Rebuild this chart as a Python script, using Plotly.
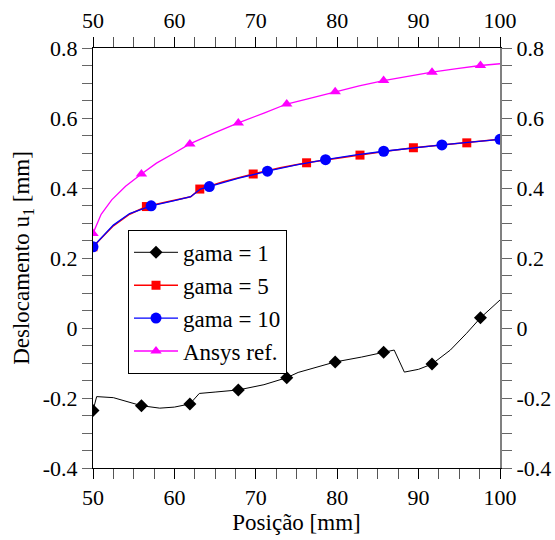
import plotly.graph_objects as go

# ---- data ----
g1_x = [50, 50.45, 52.5, 54.3, 55.95, 58.2, 60, 61.9, 63.06, 65, 67.85, 71, 73.8, 75.2, 77.5, 79.75, 83, 85.7, 87.0, 88.25, 90, 91.65, 93.9, 95.9, 97.6, 100]
g1_y = [-0.236, -0.196, -0.199, -0.21, -0.222, -0.229, -0.226, -0.217, -0.187, -0.183, -0.177, -0.162, -0.142, -0.127, -0.112, -0.097, -0.083, -0.069, -0.063, -0.126, -0.118, -0.103, -0.063, -0.015, 0.029, 0.08]
g1_mx = [50, 55.95, 61.9, 67.85, 73.8, 79.75, 85.7, 91.65, 97.6]
g1_my = [-0.236, -0.222, -0.217, -0.177, -0.142, -0.097, -0.069, -0.103, 0.029]

g5_x = [50, 52.5, 54.5, 56.56, 59, 62, 63.12, 66, 69.68, 73, 76.24, 79.5, 82.8, 86, 89.36, 92.5, 95.92, 100]
g5_y = [0.232, 0.292, 0.325, 0.347, 0.36, 0.375, 0.397, 0.418, 0.44, 0.458, 0.472, 0.484, 0.494, 0.505, 0.515, 0.522, 0.529, 0.539]
g5_mx = [50, 56.56, 63.12, 69.68, 76.24, 82.8, 89.36, 95.92]
g5_my = [0.232, 0.347, 0.397, 0.44, 0.472, 0.494, 0.515, 0.529]

g10_x = [50, 52.5, 54.5, 57.14, 60, 62, 63.2, 64.29, 67.9, 71.43, 75, 78.57, 82.1, 85.71, 89.3, 92.86, 96.4, 100]
g10_y = [0.232, 0.294, 0.327, 0.349, 0.364, 0.375, 0.397, 0.404, 0.428, 0.448, 0.466, 0.481, 0.494, 0.505, 0.515, 0.523, 0.531, 0.539]
g10_mx = [50, 57.14, 64.29, 71.43, 78.57, 85.71, 92.86, 100]
g10_my = [0.232, 0.349, 0.404, 0.448, 0.481, 0.505, 0.523, 0.539]

an_x = [50, 51, 52.3, 54, 55.95, 57.8, 60, 61.9, 65, 67.85, 71, 73.8, 77, 79.75, 82.7, 85.7, 88.7, 91.65, 94.7, 97.6, 100]
an_y = [0.27, 0.325, 0.366, 0.405, 0.44, 0.471, 0.5, 0.526, 0.558, 0.586, 0.614, 0.64, 0.658, 0.675, 0.692, 0.707, 0.72, 0.731, 0.741, 0.75, 0.755]
an_mx = [50, 55.95, 61.9, 67.85, 73.8, 79.75, 85.7, 91.65, 97.6]
an_my = [0.27, 0.44, 0.526, 0.586, 0.64, 0.675, 0.707, 0.731, 0.75]

names = ["gama = 1", "gama = 5", "gama = 10", "Ansys ref."]
y_tickvals = [-0.4, -0.2, 0, 0.2, 0.4, 0.6, 0.8]
y_ticktext = ["-0.4", "-0.2", "0", "0.2", "0.4", "0.6", "0.8"]
x_tickvals = [50, 60, 70, 80, 90, 100]

FONT = "'Liberation Serif', 'Times New Roman', serif"

series = [
    (g1_x, g1_y, g1_mx, g1_my, "black", "diamond", 10, 1.0),
    (g5_x, g5_y, g5_mx, g5_my, "#ff0000", "square", 9, 1.5),
    (g10_x, g10_y, g10_mx, g10_my, "#0000ff", "circle", 11, 1.3),
    (an_x, an_y, an_mx, an_my, "#ff00ff", "triangle-up", 10, 1.3),
]

fig = go.Figure()
for name, (lx, ly, mx, my, col, sym, ms, lw) in zip(names, series):
    fig.add_trace(go.Scatter(x=lx, y=ly, mode="lines", line=dict(color=col, width=lw),
                             showlegend=False, legendgroup=name, hoverinfo="skip"))
    fig.add_trace(go.Scatter(x=mx, y=my, mode="markers",
                             marker=dict(color=col, symbol=sym, size=ms),
                             showlegend=False, legendgroup=name))
    fig.add_trace(go.Scatter(x=[None], y=[None], mode="lines+markers", name=name,
                             line=dict(color=col, width=lw),
                             marker=dict(color=col, symbol=sym, size=ms),
                             legendgroup=name))

# dummy trace for the mirrored (top/right) axes
fig.add_trace(go.Scatter(x=[None], y=[None], xaxis="x2", yaxis="y2", showlegend=False))

tickfont = dict(family=FONT, size=22, color="black")
xcommon = dict(range=[50, 100], tickmode="array", tickvals=x_tickvals,
               ticks="outside", ticklen=10, tickcolor="black", tickwidth=1,
               minor=dict(dtick=2.5, tick0=50, ticks="outside", ticklen=10, tickcolor="#555", tickwidth=1),
               showline=True, linecolor="black", linewidth=1, showgrid=False, zeroline=False,
               tickfont=tickfont, automargin=False)
ycommon = dict(range=[-0.4, 0.8], tickmode="array", tickvals=y_tickvals, ticktext=y_ticktext,
               ticks="outside", ticklen=10, tickcolor="#666", tickwidth=1,
               minor=dict(dtick=0.05, tick0=-0.4, ticks="outside", ticklen=10, tickcolor="#666", tickwidth=1),
               showgrid=False, zeroline=False, showline=True, tickfont=tickfont, automargin=False)

fig.update_layout(
    width=555, height=540,
    margin=dict(l=93, r=55, t=48, b=72, autoexpand=False),
    paper_bgcolor="white", plot_bgcolor="white",
    font=dict(family=FONT, size=22, color="black"),
    xaxis=dict(**xcommon, title=dict(text="Posição [mm]", font=dict(family=FONT, size=23), standoff=4)),
    xaxis2=dict(**xcommon, overlaying="x", side="top", anchor="y"),
    yaxis=dict(**ycommon, linecolor="black", linewidth=1,
               title=dict(text="Deslocamento u<sub>1</sub> [mm]", font=dict(family=FONT, size=23), standoff=6)),
    yaxis2=dict(**ycommon, linecolor="#808080", linewidth=2, overlaying="y", side="right", anchor="x"),
    legend=dict(x=0.086, y=0.567, xanchor="left", yanchor="top",
                bgcolor="white", bordercolor="black", borderwidth=1,
                font=dict(family=FONT, size=23, color="black"),
                tracegroupgap=0, itemwidth=44),
    showlegend=True,
)

fig.write_html("out.html")
